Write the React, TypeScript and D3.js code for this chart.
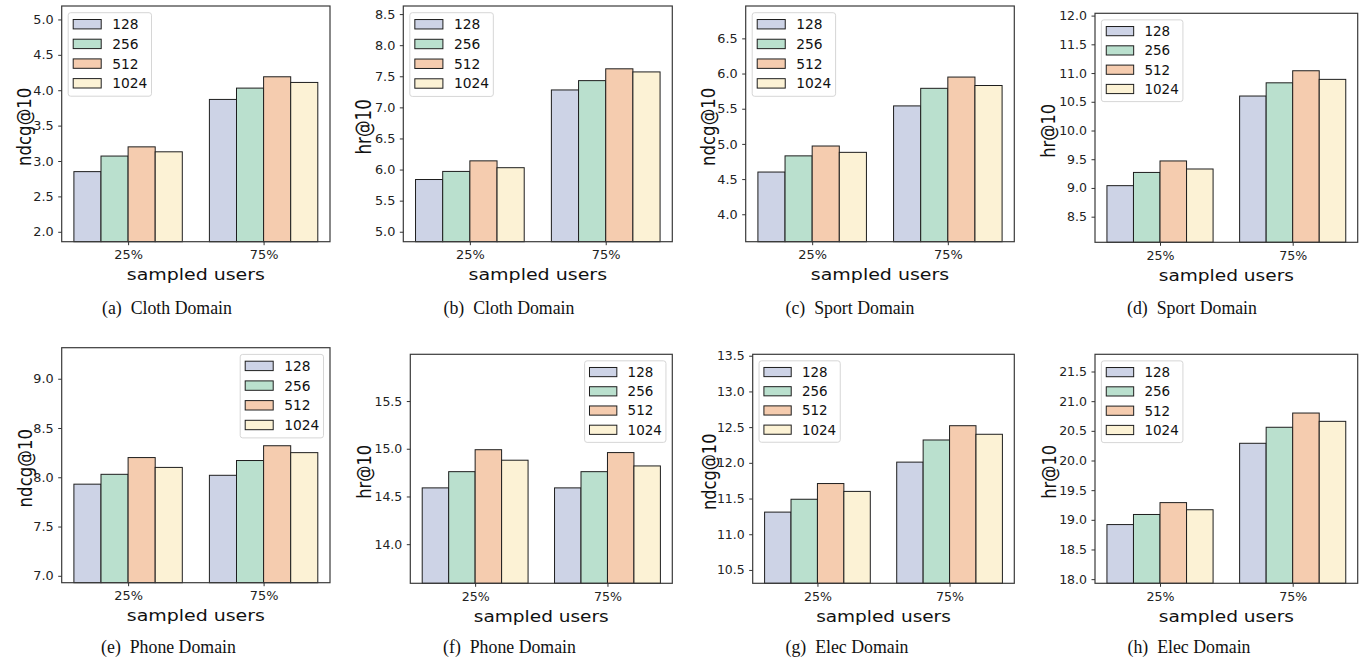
import {
  select,
  scaleLinear,
  axisLeft,
  axisBottom,
  format,
} from "d3";
import React, { useEffect, useRef } from "react";

const groups = ["25%", "75%"];
const dims = ["128", "256", "512", "1024"];
const colors = ["#cdd3e6", "#bae0ce", "#f5ccaf", "#fcf2d5"];

// 값: [그룹][차원] (128, 256, 512, 1024)
const clothNdcg = [[2.85, 3.07, 3.2, 3.13], [3.87, 4.03, 4.19, 4.11]];
const clothHr = [[5.84, 5.97, 6.14, 6.03], [7.28, 7.43, 7.62, 7.57]];
const sportNdcg = [[4.6, 4.83, 4.97, 4.88], [5.54, 5.79, 5.95, 5.83]];
const sportHr = [[9.04, 9.27, 9.47, 9.33], [10.6, 10.83, 11.04, 10.89]];
const phoneNdcg = [[7.93, 8.03, 8.2, 8.1], [8.02, 8.17, 8.32, 8.25]];
const phoneHr = [[14.59, 14.76, 14.99, 14.88], [14.59, 14.76, 14.96, 14.82]];
const elecNdcg = [[11.31, 11.49, 11.71, 11.6], [12.01, 12.32, 12.52, 12.4]];
const elecHr = [[18.92, 19.09, 19.29, 19.17], [20.29, 20.56, 20.8, 20.66]];

// y축 범위
const clothNdcgLim = [1.86, 5.19];
const clothHrLim = [4.84, 8.63];
const sportNdcgLim = [3.61, 6.96];
const sportHrLim = [8.054, 12.04];
const phoneNdcgLim = [6.93, 9.315];
const phoneHrLim = [13.59, 15.99];
const elecNdcgLim = [10.313, 13.52];
const elecHrLim = [17.93, 21.79];

// y축 눈금
const clothNdcgTicks = [2.0, 2.5, 3.0, 3.5, 4.0, 4.5, 5.0];
const clothHrTicks = [5.0, 5.5, 6.0, 6.5, 7.0, 7.5, 8.0, 8.5];
const sportNdcgTicks = [4.0, 4.5, 5.0, 5.5, 6.0, 6.5];
const sportHrTicks = [8.5, 9.0, 9.5, 10.0, 10.5, 11.0, 11.5, 12.0];
const phoneNdcgTicks = [7.0, 7.5, 8.0, 8.5, 9.0];
const phoneHrTicks = [14.0, 14.5, 15.0, 15.5];
const elecNdcgTicks = [10.5, 11.0, 11.5, 12.0, 12.5, 13.0, 13.5];
const elecHrTicks = [18.0, 18.5, 19.0, 19.5, 20.0, 20.5, 21.0, 21.5];

type Panel = {
  tag: string;
  domain: string;
  ylabel: string;
  values: number[][];
  lim: number[];
  ticks: number[];
  box: { l: number; r: number; t: number; b: number };
  legend: "ul" | "ur";
  ylabelDx: number;
  capX: number;
  capY: number;
};

const panels: Panel[] = [
  { tag: "(a)", domain: "Cloth Domain", ylabel: "ndcg@10", values: clothNdcg, lim: clothNdcgLim, ticks: clothNdcgTicks,
    box: { l: 61.7, r: 330, t: 6, b: 241.7 }, legend: "ul", ylabelDx: -38, capX: 167, capY: 314 },
  { tag: "(b)", domain: "Cloth Domain", ylabel: "hr@10", values: clothHr, lim: clothHrLim, ticks: clothHrTicks,
    box: { l: 403.3, r: 672.3, t: 6, b: 241.7 }, legend: "ul", ylabelDx: -39, capX: 509, capY: 314 },
  { tag: "(c)", domain: "Sport Domain", ylabel: "ndcg@10", values: sportNdcg, lim: sportNdcgLim, ticks: sportNdcgTicks,
    box: { l: 745.7, r: 1014.3, t: 6, b: 241.7 }, legend: "ul", ylabelDx: -37.7, capX: 850, capY: 314 },
  { tag: "(d)", domain: "Sport Domain", ylabel: "hr@10", values: sportHr, lim: sportHrLim, ticks: sportHrTicks,
    box: { l: 1095, r: 1357.7, t: 13.3, b: 242.3 }, legend: "ul", ylabelDx: -47, capX: 1192, capY: 314 },
  { tag: "(e)", domain: "Phone Domain", ylabel: "ndcg@10", values: phoneNdcg, lim: phoneNdcgLim, ticks: phoneNdcgTicks,
    box: { l: 61.7, r: 330, t: 347.7, b: 582.7 }, legend: "ur", ylabelDx: -37, capX: 168.5, capY: 653 },
  { tag: "(f)", domain: "Phone Domain", ylabel: "hr@10", values: phoneHr, lim: phoneHrLim, ticks: phoneHrTicks,
    box: { l: 410.3, r: 672.3, t: 354.3, b: 583.3 }, legend: "ur", ylabelDx: -46, capX: 509.5, capY: 653 },
  { tag: "(g)", domain: "Elec Domain", ylabel: "ndcg@10", values: elecNdcg, lim: elecNdcgLim, ticks: elecNdcgTicks,
    box: { l: 752.7, r: 1014.3, t: 354.3, b: 583.3 }, legend: "ul", ylabelDx: -44, capX: 847, capY: 653 },
  { tag: "(h)", domain: "Elec Domain", ylabel: "hr@10", values: elecHr, lim: elecHrLim, ticks: elecHrTicks,
    box: { l: 1095, r: 1357.7, t: 354.3, b: 583.3 }, legend: "ul", ylabelDx: -46, capX: 1189, capY: 653 },
];

const SANS = "'DejaVu Sans', sans-serif";
const SERIF = "'Liberation Serif', 'Times New Roman', serif";

const App = () => {
  const chartRef = useRef<SVGSVGElement>(null);

  useEffect(() => {
    if (!chartRef.current) return;
    const svg = select(chartRef.current);
    svg.selectAll("*").remove();

    panels.forEach((p) => {
      const { l, r, t, b } = p.box;
      const s = (r - l) / 268.3;
      const g = svg.append("g");

      // x, y 스케일
      const x = scaleLinear().domain([-0.49, 1.49]).range([l, r]);
      const y = scaleLinear().domain(p.lim).range([b, t]);

      // 막대
      p.values.forEach((vals, gi) => {
        vals.forEach((v, di) => {
          const c = gi + (di - 1.5) * 0.2;
          g.append("rect")
            .attr("x", x(c - 0.1))
            .attr("y", y(v))
            .attr("width", x(c + 0.1) - x(c - 0.1))
            .attr("height", b - y(v))
            .attr("fill", colors[di])
            .attr("stroke", "#1e1e1e")
            .attr("stroke-width", 1);
        });
      });

      // 테두리
      g.append("rect")
        .attr("x", l)
        .attr("y", t)
        .attr("width", r - l)
        .attr("height", b - t)
        .attr("fill", "none")
        .attr("stroke", "#3a3a3a")
        .attr("stroke-width", 1.2);

      // y축
      const ya = g
        .append("g")
        .attr("transform", `translate(${l},0)`)
        .call(
          axisLeft(y)
            .tickValues(p.ticks)
            .tickFormat((d) => format(".1f")(d as number))
            .tickSize(3.5)
            .tickPadding(4.5)
        );
      ya.select(".domain").remove();
      ya.selectAll("line").attr("stroke", "#333");
      ya.selectAll("text")
        .attr("font-family", SANS)
        .attr("font-size", 12.8 * s)
        .attr("fill", "#222");

      // x축
      const xa = g
        .append("g")
        .attr("transform", `translate(0,${b})`)
        .call(
          axisBottom(x)
            .tickValues([0, 1])
            .tickFormat((d) => groups[d as number])
            .tickSize(3.5)
            .tickPadding(5)
        );
      xa.select(".domain").remove();
      xa.selectAll("line").attr("stroke", "#333");
      xa.selectAll("text")
        .attr("font-family", SANS)
        .attr("font-size", 12.9 * s)
        .attr("fill", "#222");

      // 축 제목
      g.append("text")
        .attr("transform", `translate(${(l + r) / 2},${b + 38.5}) scale(1.2,1)`)
        .attr("text-anchor", "middle")
        .attr("font-family", SANS)
        .attr("font-size", 15.8 * s)
        .attr("fill", "#111")
        .text("sampled users");

      g.append("text")
        .attr(
          "transform",
          `translate(${l + p.ylabelDx},${(t + b) / 2 + 3}) rotate(-90) scale(1,1.22)`
        )
        .attr("text-anchor", "middle")
        .attr("dy", "0.35em")
        .attr("font-family", SANS)
        .attr("font-size", 16.6 * s)
        .attr("fill", "#111")
        .text(p.ylabel);

      // 범례
      const lw = 83.3 * s;
      const lh = 83.5 * s;
      const lx = p.legend === "ul" ? l + 6.5 * s : r - 6.5 * s - lw;
      const ly = t + 6.7 * s;
      const lg = g.append("g");
      lg.append("rect")
        .attr("x", lx)
        .attr("y", ly)
        .attr("width", lw)
        .attr("height", lh)
        .attr("rx", 2.5)
        .attr("fill", "white")
        .attr("fill-opacity", 0.85)
        .attr("stroke", "#d6d6d6")
        .attr("stroke-width", 1);
      dims.forEach((d, i) => {
        const cy = ly + 11.5 * s + i * 19.7 * s;
        lg.append("rect")
          .attr("x", lx + 5 * s)
          .attr("y", cy - 4.7 * s)
          .attr("width", 28 * s)
          .attr("height", 9.4 * s)
          .attr("fill", colors[i])
          .attr("stroke", "#1e1e1e")
          .attr("stroke-width", 1);
        lg.append("text")
          .attr("x", lx + 44 * s)
          .attr("y", cy)
          .attr("dy", "0.36em")
          .attr("font-family", SANS)
          .attr("font-size", 13.8 * s)
          .attr("fill", "#111")
          .text(d);
      });

      // 캡션
      g.append("text")
        .attr("x", p.capX)
        .attr("y", p.capY)
        .attr("text-anchor", "middle")
        .attr("font-family", SERIF)
        .attr("font-size", 17.8)
        .attr("fill", "#111")
        .text(`${p.tag}\u2002${p.domain}`);
    });
  }, []);

  return (
    <React.Fragment>
      <svg
        ref={chartRef}
        width={1371}
        height={663}
        style={{ position: "absolute", left: 0, top: 0, background: "white" }}
      ></svg>
    </React.Fragment>
  );
};

export default App;
